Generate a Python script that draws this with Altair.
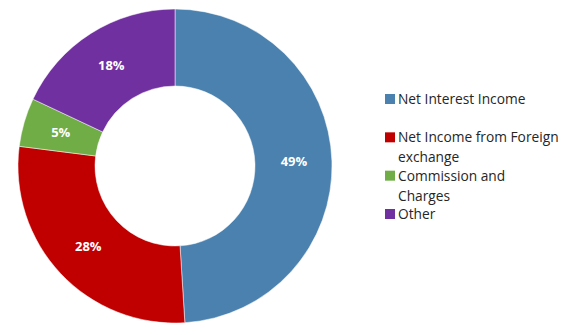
import altair as alt
import pandas as pd

categories = ["Net Interest Income", "Net Income from Foreign exchange", "Commission and Charges", "Other"]
legend_lines = ["Net Interest Income", "Net Income from Foreign\nexchange", "Commission and\nCharges", "Other"]
values = [49, 28, 5, 18]
labels = ["49%", "28%", "5%", "18%"]
colors = ["#4A81AF", "#C00000", "#70AD47", "#7030A0"]

df = pd.DataFrame({
    "category": categories,
    "value": values,
    "label": labels,
    "legend": legend_lines,
    "order": list(range(len(categories))),
})

color_scale = alt.Scale(domain=categories, range=colors)
cx, cy = 167, 158

base = alt.Chart(df)

arc = base.mark_arc(outerRadius=157, innerRadius=80, stroke="white", strokeWidth=0.5).encode(
    theta=alt.Theta("value:Q", stack=True),
    color=alt.Color("category:N", scale=color_scale, legend=None),
    order=alt.Order("order:Q"),
    x=alt.value(cx),
    y=alt.value(cy),
)

text = base.mark_text(radius=119, font="Open Sans", fontSize=13, fontWeight="bold", color="white").encode(
    theta=alt.Theta("value:Q", stack=True),
    order=alt.Order("order:Q"),
    text="label:N",
    x=alt.value(cx),
    y=alt.value(cy),
)

yscale = alt.Scale(domain=categories, range=[91, 206], type="point", padding=0)

leg_sq = base.mark_square(size=100, opacity=1).encode(
    x=alt.value(382),
    y=alt.Y("category:N", scale=yscale, axis=None),
    color=alt.Color("category:N", scale=color_scale, legend=None),
)

leg_txt = base.mark_text(align="left", baseline="alphabetic", dy=5, lineBreak="\n", lineHeight=20,
                         font="Open Sans", fontSize=13.75, color="#262626").encode(
    x=alt.value(390),
    y=alt.Y("category:N", scale=yscale, axis=None),
    text="legend:N",
)

chart = alt.layer(arc, text, leg_sq, leg_txt).properties(
    width=555, height=315, padding=0,
    autosize=alt.AutoSizeParams(type="none"),
).configure_view(stroke=None)

chart.save("out.html", embed_options={"renderer": "svg", "actions": False})
